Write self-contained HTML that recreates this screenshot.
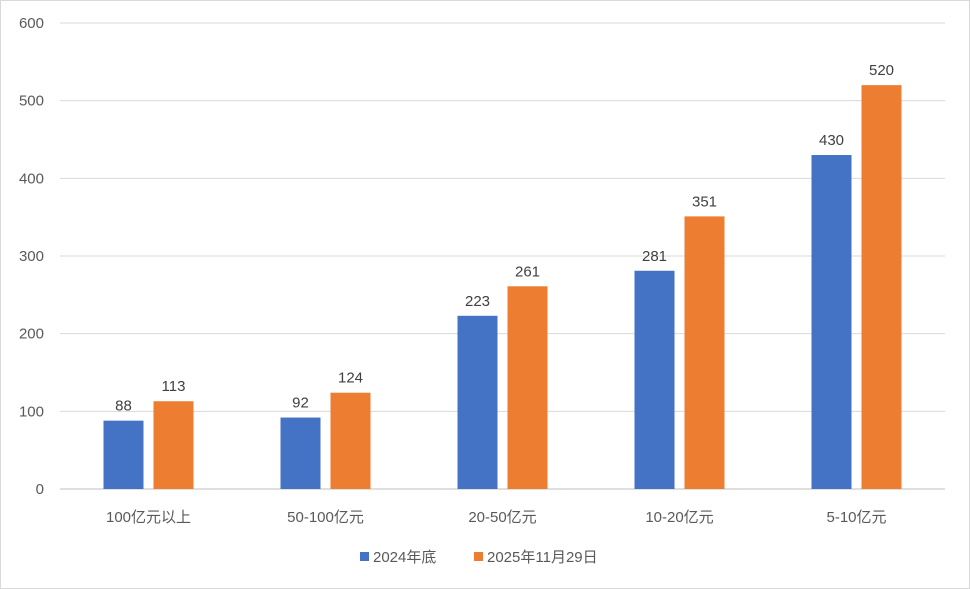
<!DOCTYPE html>
<html><head><meta charset="utf-8">
<style>
body{margin:0;background:#fff;}
svg{display:block;font-family:"Liberation Sans","Noto Sans CJK SC",sans-serif;}
</style></head>
<body>
<svg id="chart" width="970" height="589">
<rect x="0.5" y="0.5" width="969" height="588" fill="#fff" stroke="#d9d9d9"/>
<g id="grid"></g><g id="bars"></g><g id="labels"></g>
<g>
<rect x="360" y="552" width="9" height="9" fill="#4472C4"/>
<text x="373" y="562" font-size="15" fill="#595959">2024年底</text>
<rect x="474" y="552" width="9" height="9" fill="#ED7D31"/>
<text x="487" y="562" font-size="15" fill="#595959">2025年11月29日</text>
</g>
</svg>
<script>
const categories=["100亿元以上","50-100亿元","20-50亿元","10-20亿元","5-10亿元"];
const series2024=[88,92,223,281,430];
const series2025=[113,124,261,351,520];
const yTicks=[0,100,200,300,400,500,600];
const NS="http://www.w3.org/2000/svg";
const x0=60,x1=945,yBase=489,yTop=23,yMax=600;
const y=v=>yBase-(v/yMax)*(yBase-yTop);
const band=(x1-x0)/categories.length;
const cx=i=>x0+band*(i+0.5);
function mk(tag,attrs,parent,txt){const e=document.createElementNS(NS,tag);for(const k in attrs)e.setAttribute(k,attrs[k]);if(txt!==undefined)e.textContent=txt;document.getElementById(parent).appendChild(e);return e;}
yTicks.forEach(t=>{
  const l=mk('line',{x1:x0,x2:x1,y1:y(t),y2:y(t),stroke:t===0?'#bfbfbf':'#d9d9d9','stroke-width':1},'grid');
  
  
  const tx=mk('text',{x:44,y:y(t)+5,'text-anchor':'end','font-size':15,fill:'#595959'},'grid',String(t));
  
  
});
categories.forEach((c,i)=>{
  const t=mk('text',{x:cx(i),y:522,'text-anchor':'middle','font-size':15,fill:'#595959'},'labels',c);
  
  
  [[series2024,'#4472C4',-45,'2024'],[series2025,'#ED7D31',5,'2025']].forEach(([s,col,off,nm])=>{
    const v=s[i];
    const r=mk('rect',{x:cx(i)+off,y:y(v),width:40,height:yBase-y(v),fill:col},'bars');
    
    
    const lb=mk('text',{x:cx(i)+off+20,y:y(v)-10,'text-anchor':'middle','font-size':15,fill:'#404040'},'labels',String(v));
    
    
  });
});
</script>
</body></html>
